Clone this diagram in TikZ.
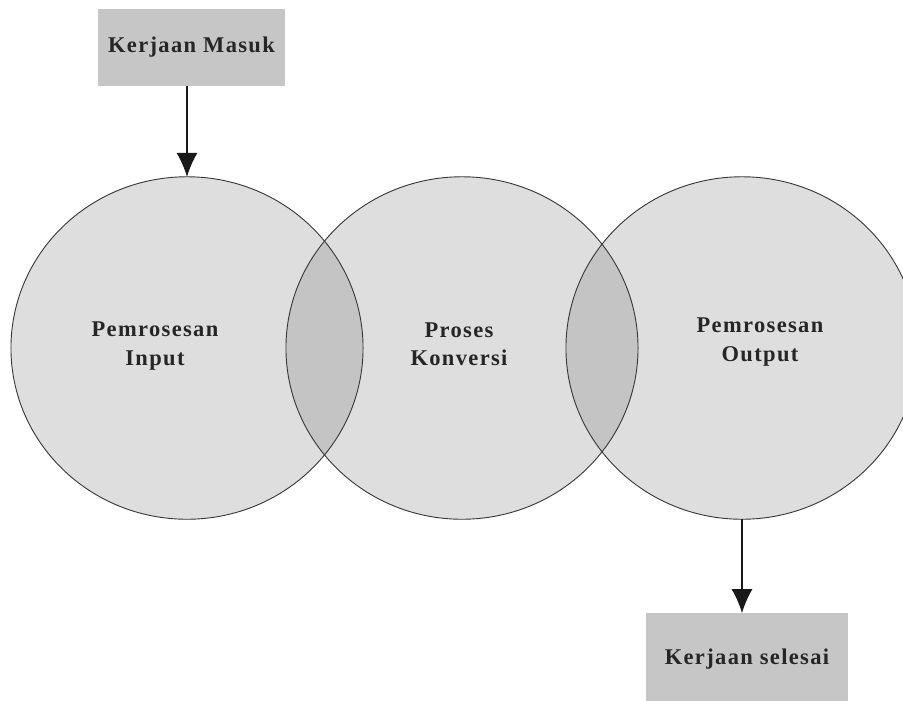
\documentclass[tikz,border=0pt]{standalone}
\usepackage{fontspec}
\setmainfont{Liberation Serif}
\usetikzlibrary{arrows.meta,shapes.geometric}
\definecolor{CircleGray}{HTML}{DEDEDE}
\definecolor{LensGray}{HTML}{C4C4C4}
\definecolor{BoxGray}{HTML}{C6C6C6}
\definecolor{EdgeGray}{HTML}{383838}
\newcommand{\phaserx}{4.4cm}
\newcommand{\phasery}{4.28cm}
\newcommand{\diagfont}{\bfseries\fontsize{16}{20}\selectfont\addfontfeature{LetterSpace=6}}

\begin{document}
\begin{tikzpicture}[
  x=0.025cm, y=-0.025cm,
  phase/.style={ellipse, fill=CircleGray, minimum width=2*\phaserx, minimum height=2*\phasery, inner sep=0pt, outer sep=0pt},
  rim/.style={draw=EdgeGray, line width=0.65pt},
  phasetext/.style={align=center, font=\diagfont, text=black!85},
  jobbox/.style={fill=BoxGray, inner sep=0pt, outer sep=0pt, font=\diagfont, text=black!85},
  arrow/.style={-{Latex[length=17pt,width=15pt]}, line width=0.9pt, black!90}
]
\useasboundingbox (0,0) rectangle (903,700);

% the three phases
\node[phase] (input) at (187,348) {};
\node[phase] (konversi) at (462,348) {};
\node[phase] (output) at (742,348) {};

% overlaps
\begin{scope}
  \clip (input.center) ellipse [x radius=\phaserx, y radius=\phasery];
  \fill[LensGray] (konversi.center) ellipse [x radius=\phaserx, y radius=\phasery];
\end{scope}
\begin{scope}
  \clip (konversi.center) ellipse [x radius=\phaserx, y radius=\phasery];
  \fill[LensGray] (output.center) ellipse [x radius=\phaserx, y radius=\phasery];
\end{scope}

\draw[rim] (input.center) ellipse [x radius=\phaserx, y radius=\phasery];
\draw[rim] (konversi.center) ellipse [x radius=\phaserx, y radius=\phasery];
\draw[rim] (output.center) ellipse [x radius=\phaserx, y radius=\phasery];

\node[phasetext] (inputtext) at (155,346) {Pemrosesan\\Input};
\node[phasetext] (konversitext) at (459,344) {Proses\\Konversi};
\node[phasetext] (outputtext) at (760,342) {Pemrosesan\\Output};

% jobs in and out
\node[jobbox, minimum width=4.675cm, minimum height=1.925cm] (masuk) at (191.5,47.5) {Kerjaan Masuk};
\node[jobbox, minimum width=5.05cm, minimum height=2.325cm] (selesai) at (747,659.5) {Kerjaan selesai};

\draw[arrow] (input.north |- masuk.south) -- (input.north);
\draw[arrow] (output.south) -- (output.south |- selesai.north);
\end{tikzpicture}
\end{document}
